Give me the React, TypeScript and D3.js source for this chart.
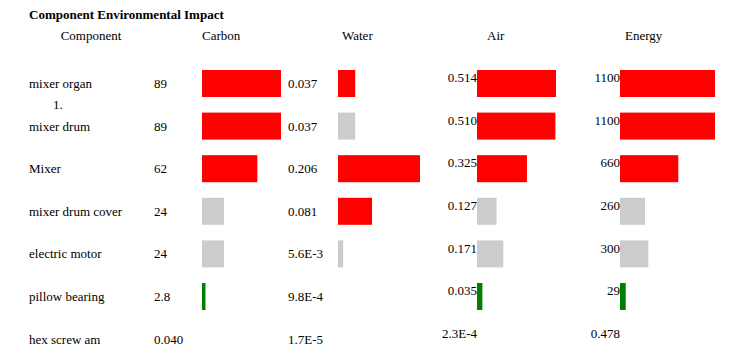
import React from "react";
import * as d3 from "d3";

const title = "Component Environmental Impact";
const headers = ["Component", "Carbon", "Water", "Air", "Energy"];
const components = [
  "mixer organ",
  "mixer drum",
  "Mixer",
  "mixer drum cover",
  "electric motor",
  "pillow bearing",
  "hex screw am",
];
const carbonValues = [89, 89, 62, 24, 24, 2.8, 0.04];
const carbonLabels = ["89", "89", "62", "24", "24", "2.8", "0.040"];
const carbonLevels = ["high", "high", "high", "mid", "mid", "low", "none"];
const waterValues = [0.037, 0.037, 0.206, 0.081, 0.0056, 0.00098, 0.000017];
const waterLabels = ["0.037", "0.037", "0.206", "0.081", "5.6E-3", "9.8E-4", "1.7E-5"];
const waterLevels = ["high", "mid", "high", "high", "mid", "none", "none"];
const airValues = [0.514, 0.51, 0.325, 0.127, 0.171, 0.035, 0.00023];
const airLabels = ["0.514", "0.510", "0.325", "0.127", "0.171", "0.035", "2.3E-4"];
const airLevels = ["high", "high", "high", "mid", "mid", "low", "none"];
const energyValues = [1100, 1100, 660, 260, 300, 29, 0.478];
const energyLabels = ["1100", "1100", "660", "260", "300", "29", "0.478"];
const energyLevels = ["high", "high", "high", "mid", "mid", "low", "none"];
const footnote = "1.";

const W = 732;
const H = 358;
const FONT = "'Liberation Serif', 'Times New Roman', serif";
const FS = 13;
const BAR_H = 27;

const levelColor: Record<string, string> = {
  high: "#ff0000",
  mid: "#cccccc",
  low: "#008000",
  none: "none",
};

export default function App() {
  const rowScale = d3
    .scaleBand<string>()
    .domain(components)
    .range([62.2, 62.2 + components.length * 42.6])
    .paddingInner(0)
    .paddingOuter(0);
  const bw = rowScale.bandwidth();

  const carbonW = d3.scaleLinear().domain([0, d3.max(carbonValues)!]).range([1, 79]);
  const waterW = d3.scaleLinear().domain([0, d3.max(waterValues)!]).range([3, 82]);
  const airW = d3.scaleLinear().domain([0, d3.max(airValues)!]).range([0, 79]);
  const energyW = d3.scaleLinear().domain([0, d3.max(energyValues)!]).range([3.3, 95]);

  const cols = [
    { values: carbonValues, labels: carbonLabels, levels: carbonLevels, w: carbonW, labelX: 154, anchor: "start", barX: 202, labelDy: 4.5 },
    { values: waterValues, labels: waterLabels, levels: waterLevels, w: waterW, labelX: 288, anchor: "start", barX: 338, labelDy: 4.5 },
    { values: airValues, labels: airLabels, levels: airLevels, w: airW, labelX: 477, anchor: "end", barX: 477, labelDy: -1.3 },
    { values: energyValues, labels: energyLabels, levels: energyLevels, w: energyW, labelX: 620, anchor: "end", barX: 620, labelDy: -1.3 },
  ];

  const headerPos = [
    { x: 91, anchor: "middle" },
    { x: 202, anchor: "start" },
    { x: 342, anchor: "start" },
    { x: 487, anchor: "start" },
    { x: 625, anchor: "start" },
  ];

  return (
    <svg
      width={W}
      height={H}
      style={{ position: "absolute", left: 0, top: 0, display: "block", background: "#fff" }}
      fontFamily={FONT}
      fontSize={FS}
    >
      <text x={29} y={19} fontWeight="bold" fill="#000">
        {title}
      </text>
      {headers.map((h, i) => (
        <text key={h} x={headerPos[i].x} y={40} textAnchor={headerPos[i].anchor as any} fill="#000">
          {h}
        </text>
      ))}
      {components.map((c, r) => {
        const y0 = rowScale(c)!;
        const cy = y0 + bw / 2;
        return (
          <g key={c}>
            <text x={29} y={cy + 4.5} fill="#000">
              {c}
            </text>
            {cols.map((col, k) => (
              <g key={k}>
                {col.levels[r] !== "none" && (
                  <rect
                    x={col.barX}
                    y={cy - BAR_H / 2}
                    width={col.w(col.values[r])}
                    height={BAR_H}
                    fill={levelColor[col.levels[r]]}
                  />
                )}
                <text
                  x={col.labelX}
                  y={cy + (col.levels[r] === "none" && k >= 2 ? -1.3 : col.labelDy)}
                  textAnchor={col.anchor as any}
                  fill="#000"
                >
                  {col.labels[r]}
                </text>
              </g>
            ))}
          </g>
        );
      })}
      <text x={53} y={109} fill="#000">
        {footnote}
      </text>
    </svg>
  );
}
